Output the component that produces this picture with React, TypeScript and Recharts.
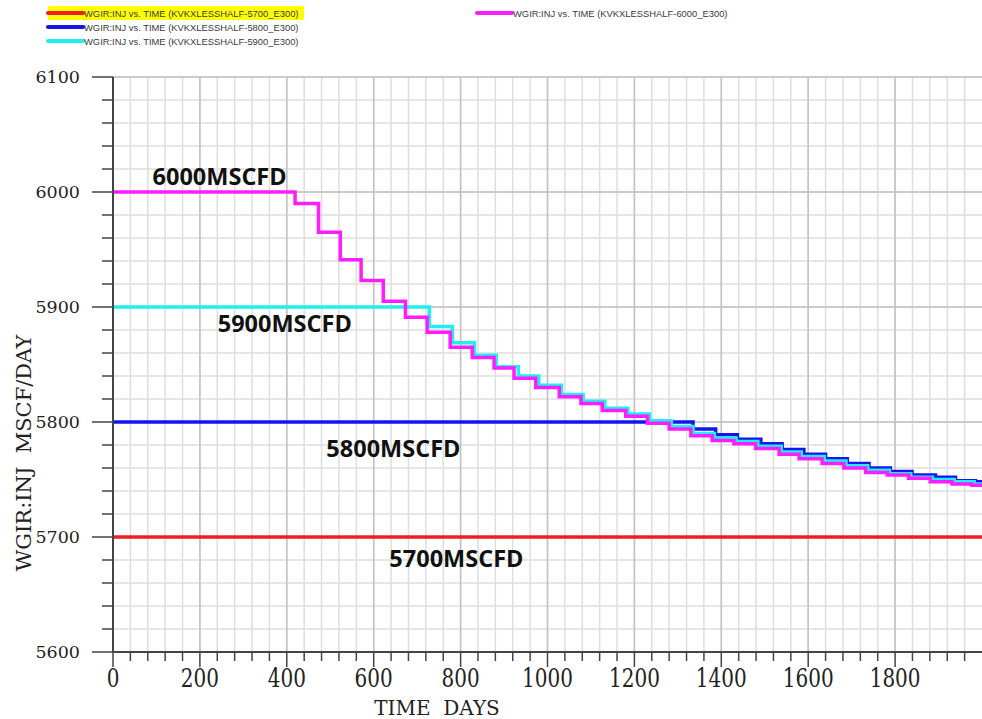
import React from "react";
import {
  LineChart,
  Line,
  XAxis,
  YAxis,
  CartesianGrid,
  Legend,
  ReferenceDot,
} from "recharts";

// injection rate cases (MSCF/DAY), step changes
const caseNames = [
  "KVKXLESSHALF-5700_E300",
  "KVKXLESSHALF-5800_E300",
  "KVKXLESSHALF-5900_E300",
  "KVKXLESSHALF-6000_E300",
];
const caseColors = ["#ee1c25", "#1414f0", "#1ef0f0", "#ff1cff"];

const days5700 = [0, 2000];
const rate5700 = [5700, 5700];

const days5800 = [0, 1335, 1387, 1437, 1491, 1540, 1590, 1640, 1690, 1740, 1789, 1839, 1893, 1939, 1985, 2000];
const rate5800 = [5800, 5794, 5789, 5785, 5781, 5776, 5772, 5768, 5764, 5760, 5757, 5754, 5752, 5749, 5748, 5748];

const days5900 = [0, 728, 781, 832, 882, 933, 980, 1032, 1082, 1132, 1185, 1235, 1285, 1335, 1384, 1434, 1484, 1538, 1584, 1637, 1687, 1737, 1787, 1836, 1886, 1936, 1982, 2000];
const rate5900 = [5900, 5883, 5869, 5858, 5848, 5840, 5832, 5824, 5818, 5812, 5807, 5801, 5796, 5790, 5786, 5783, 5779, 5774, 5770, 5766, 5762, 5758, 5755, 5752, 5750, 5748, 5746, 5746];

const days6000 = [0, 419, 473, 523, 571, 622, 673, 723, 776, 827, 877, 923, 973, 1027, 1077, 1126, 1180, 1230, 1280, 1330, 1379, 1429, 1479, 1533, 1579, 1632, 1682, 1732, 1782, 1831, 1881, 1931, 1977, 2000];
const rate6000 = [6000, 5990, 5965, 5941, 5923, 5905, 5891, 5878, 5865, 5856, 5847, 5838, 5830, 5822, 5816, 5810, 5805, 5799, 5794, 5788, 5784, 5781, 5777, 5772, 5768, 5764, 5760, 5756, 5754, 5751, 5748, 5746, 5745, 5745];

// axis ticks
const xTickLabels = [0, 200, 400, 600, 800, 1000, 1200, 1400, 1600, 1800];
const yTickLabels = [5600, 5700, 5800, 5900, 6000, 6100];

// text annotations on the plot
const noteText = ["6000MSCFD", "5900MSCFD", "5800MSCFD", "5700MSCFD"];
const noteDay = [91, 241, 491, 636];
const noteRate = [6006, 5878, 5770, 5674];

const allDays = [days5700, days5800, days5900, days6000];
const allRates = [rate5700, rate5800, rate5900, rate6000];
const series = allDays.map((d, i) => d.map((t, j) => ({ t, v: allRates[i][j] })));

const xMinor: number[] = [];
for (let t = 0; t < 2000; t += 40) xMinor.push(t);
const yMinor: number[] = [];
for (let v = 5600; v <= 6100; v += 20) yMinor.push(v);

const SERIF = "'DejaVu Serif', serif";
const AXIS = "#444";
const Y_AXIS_W = 113;

const renderXTick = (props: any) => {
  const { x, y, payload } = props;
  const major = payload.value % 200 === 0;
  return (
    <g key={`xt-${payload.value}`}>
      <line x1={x} x2={x} y1={y} y2={y + (major ? 15 : 9)} stroke={AXIS} strokeWidth={1.5} />
      {major && (
        <g transform={`translate(${x},${y + 35}) scale(1,1.3)`}>
          <text x={0} y={0} textAnchor="middle" fontFamily={SERIF} fontSize={20} fill="#222">
            {payload.value}
          </text>
        </g>
      )}
    </g>
  );
};

const renderYTick = (props: any) => {
  const { y, payload } = props;
  const ax = Y_AXIS_W;
  const major = (payload.value - 5600) % 100 === 0;
  return (
    <g key={`yt-${payload.value}`}>
      <line x1={ax - (major ? 21 : 11)} x2={ax} y1={y} y2={y} stroke={AXIS} strokeWidth={1.5} />
      {major && (
        <text x={ax - 33} y={y + 6} textAnchor="end" fontFamily={SERIF} fontSize={17.5} fill="#222">
          {payload.value}
        </text>
      )}
    </g>
  );
};

const LegendBox = () => (
  <svg width={982} height={50}>
    <rect x={48} y={6} width={256} height={14} fill="#ffff00" />
    {caseNames.map((name, i) => {
      const left = i < 3 ? 48 : 477;
      const top = i < 3 ? 13 + i * 14 : 13;
      return (
        <g key={name}>
          <line x1={left} x2={left + 35} y1={top} y2={top} stroke={caseColors[i]} strokeWidth={4} strokeLinecap="round" />
          <text x={left + 36} y={top + 3.5} fontFamily="'Liberation Sans', Arial, sans-serif" fontSize={9.4} fill="#3a3a3a">
            {`WGIR:INJ vs. TIME (${name})`}
          </text>
        </g>
      );
    })}
  </svg>
);

export default function App() {
  return (
    <div style={{ position: "absolute", left: 0, top: 0, width: 982, height: 719, background: "#fff" }}>
      <LineChart width={982} height={719} margin={{ top: 77, right: 0, bottom: 0, left: 0 }}>
        <CartesianGrid stroke="#dedede" strokeWidth={1.5} verticalValues={xMinor} horizontalValues={yMinor} />
        <CartesianGrid stroke="#c2c2c2" strokeWidth={1.5} verticalValues={xTickLabels} horizontalValues={yTickLabels} />
        <XAxis
          type="number"
          dataKey="t"
          domain={[0, 2000]}
          ticks={xMinor}
          interval={0}
          tick={renderXTick}
          tickLine={false}
          tickSize={0}
          tickMargin={0}
          height={67}
          axisLine={{ stroke: AXIS, strokeWidth: 2 }}
          allowDataOverflow
          label={{
            content: () => (
              <text x={437} y={715} textAnchor="middle" fontFamily={SERIF} fontSize={20} fill="#222" style={{ whiteSpace: "pre" }}>
                {"TIME  DAYS"}
              </text>
            ),
          }}
        />
        <YAxis
          type="number"
          domain={[5600, 6100]}
          ticks={yMinor}
          interval={0}
          tick={renderYTick}
          tickLine={false}
          tickSize={0}
          tickMargin={0}
          width={Y_AXIS_W}
          axisLine={{ stroke: AXIS, strokeWidth: 2 }}
          allowDataOverflow
          label={{
            content: () => (
              <text
                x={24}
                y={453}
                transform="rotate(-90, 24, 453)"
                textAnchor="middle"
                dominantBaseline="central"
                fontFamily={SERIF}
                fontSize={21}
                fill="#222"
                style={{ whiteSpace: "pre" }}
              >
                {"WGIR:INJ  MSCF/DAY"}
              </text>
            ),
          }}
        />
        <Legend
          layout="horizontal"
          verticalAlign="middle"
          align="center"
          wrapperStyle={{ top: 0, left: 0, width: 982, height: 50 }}
          content={() => <LegendBox />}
        />
        {series.map((data, i) => (
          <Line
            key={caseNames[i]}
            data={data}
            dataKey="v"
            name={caseNames[i]}
            type="stepAfter"
            stroke={caseColors[i]}
            strokeWidth={3.5}
            dot={false}
            activeDot={false}
            isAnimationActive={false}
          />
        ))}
        {noteText.map((txt, i) => (
          <ReferenceDot
            key={txt}
            x={noteDay[i]}
            y={noteRate[i]}
            r={0}
            shape={(p: any) => (
              <text x={p.cx} y={p.cy} fontFamily="'Open Sans', sans-serif" fontWeight={700} fontSize={23.5} fill="#111">
                {txt}
              </text>
            )}
          />
        ))}
      </LineChart>
    </div>
  );
}
